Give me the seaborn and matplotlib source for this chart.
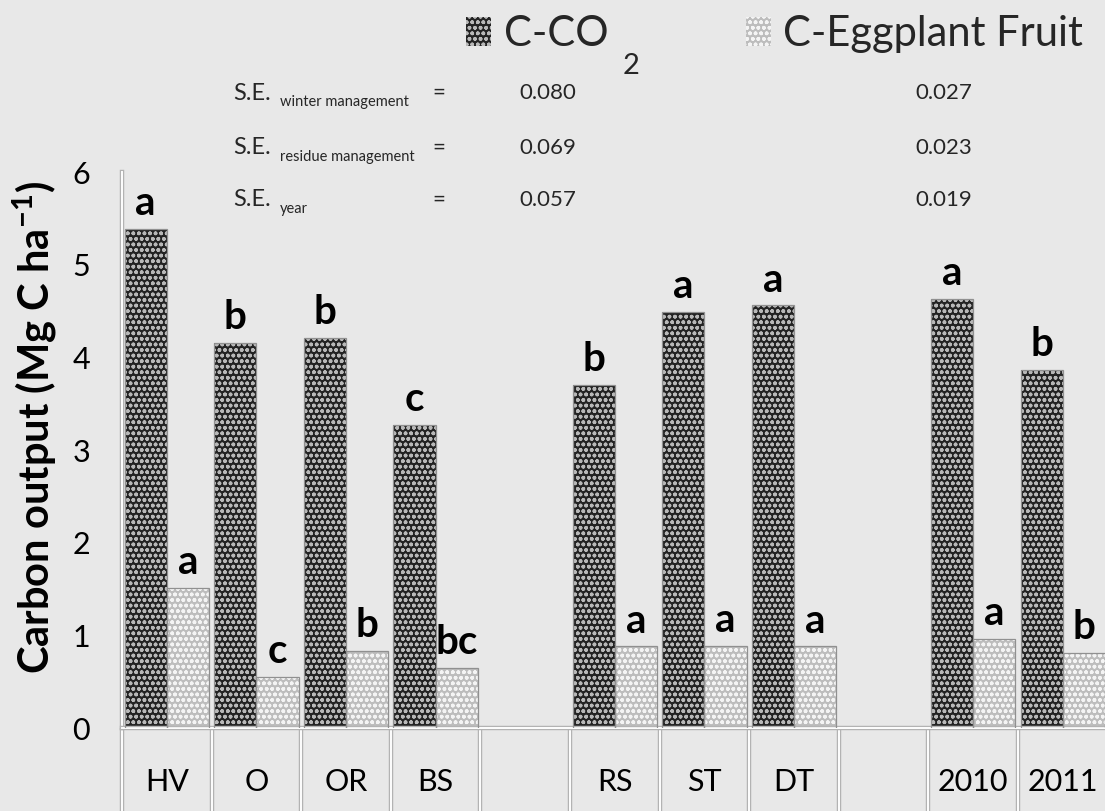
import matplotlib
matplotlib.use("Agg")
import matplotlib.pyplot as plt
import numpy as np
import pandas as pd
import seaborn as sns
from matplotlib.patches import Rectangle
from matplotlib import patheffects as pe
from matplotlib.transforms import blended_transform_factory

# ---- data -------------------------------------------------------------
# category slots along the x axis (blank slots separate the three factor groups)
slots = ["HV", "O", "OR", "BS", " ", "RS", "ST", "DT", "  ", "2010", "2011"]
treatments = ["HV", "O", "OR", "BS", "RS", "ST", "DT", "2010", "2011"]
series = ["C-CO2", "C-Eggplant Fruit"]

co2 = [5.39, 4.16, 4.21, 3.27, 3.70, 4.49, 4.56, 4.63, 3.86]
fruit = [1.51, 0.55, 0.83, 0.65, 0.88, 0.89, 0.88, 0.96, 0.81]

co2_letters = ["a", "b", "b", "c", "b", "a", "a", "a", "b"]
fruit_letters = ["a", "c", "b", "bc", "a", "a", "a", "a", "b"]

se_terms = ["winter management", "residue management", "year"]
se_co2 = ["0.080", "0.069", "0.057"]
se_fruit = ["0.027", "0.023", "0.019"]

# ---- style ------------------------------------------------------------
BG = "#e8e8e8"
DARK = "#232323"
LIGHT = "#bdbdbd"

sns.set_style("white")
plt.rcParams["font.family"] = ["Lato", "DejaVu Sans"]
plt.rcParams["mathtext.fontset"] = "custom"
plt.rcParams["mathtext.rm"] = "Lato"
plt.rcParams["mathtext.bf"] = "Lato:bold"
plt.rcParams["mathtext.it"] = "Lato:italic"
plt.rcParams["hatch.linewidth"] = 1.1

W, H = 1105, 811
fig = plt.figure(figsize=(W / 100, H / 100), dpi=100)
fig.patch.set_facecolor(BG)
ax = fig.add_axes([122 / W, (H - 728) / H, 985.6 / W, 556 / H])
ax.set_facecolor(BG)

df = pd.DataFrame({
    "treatment": treatments * 2,
    "series": [series[0]] * len(treatments) + [series[1]] * len(treatments),
    "carbon": co2 + fruit,
})

sns.barplot(data=df, x="treatment", y="carbon", hue="series",
            order=slots, hue_order=series, palette=[DARK, LIGHT],
            width=0.94, saturation=1, errorbar=None, legend=False, ax=ax)

ax.set_xlim(-0.5, len(slots) - 0.5)
ax.set_ylim(0, 6)

# dotted fill patterns, thin outlines and significance letters
letters = {series[0]: dict(zip(treatments, co2_letters)),
           series[1]: dict(zip(treatments, fruit_letters))}
hatch_cols = ["#b8b8b8", "#f4f4f4"]
for s, cont, hc in zip(series, ax.containers, hatch_cols):
    for bar in cont:
        bar.set_hatch("ooo")
        bar.set_edgecolor(hc)
        bar.set_linewidth(0)
        ax.add_patch(Rectangle((bar.get_x(), bar.get_y()), bar.get_width(),
                               bar.get_height(), fill=False,
                               edgecolor="#909090", linewidth=0.9, zorder=3))
        slot = slots[int(round(bar.get_x() + bar.get_width() / 2))]
        ax.annotate(letters[s][slot], (bar.get_x() + bar.get_width() / 2, bar.get_height()),
                    xytext=(0, 10), textcoords="offset points", ha="center",
                    va="baseline", fontsize=29, fontweight="bold", color="black")

# axes lines: white with grey rim
rim = [pe.Stroke(linewidth=3.2, foreground="#b3b3b3"), pe.Normal()]
for side in ["top", "right"]:
    ax.spines[side].set_visible(False)
for side in ["left", "bottom"]:
    ax.spines[side].set_color("white")
    ax.spines[side].set_linewidth(1.4)
    ax.spines[side].set_path_effects(rim)

ax.set_yticks(range(0, 7))
ax.tick_params(axis="y", length=10, width=1.4, color="white", pad=13,
               labelsize=22, labelcolor="black")
for t in ax.yaxis.get_major_ticks():
    t.tick1line.set_path_effects(rim)

ax.set_xticks(range(len(slots)))
ax.set_xticklabels([s.strip() for s in slots])
ax.tick_params(axis="x", length=0, pad=29, labelsize=22, labelcolor="black")
ax.set_xlabel("")

# category separators below the axis
trans = blended_transform_factory(ax.transData, ax.transAxes)
ax.vlines(np.arange(len(slots) + 1) - 0.5, -0.16, 0, transform=trans,
          colors="white", linewidth=1.4, clip_on=False, path_effects=rim)

ax.set_ylabel(r"Carbon output (Mg C ha$^{\mathbf{-1}}$)", fontsize=30,
              fontweight="bold", color="black")
ax.yaxis.set_label_coords(-0.064, 0.54)

# legend along the top
leg = fig.legend(handles=[ax.containers[0], ax.containers[1]],
                 labels=["C-CO", "C-Eggplant Fruit"], loc="upper left",
                 bbox_to_anchor=(466 / W, 1 - 15 / H), ncol=2, frameon=False,
                 fontsize=30, handlelength=0.6, handleheight=0.7,
                 handletextpad=0.3, columnspacing=3.3, borderpad=0,
                 borderaxespad=0)
fig.canvas.draw()
bb = leg.get_texts()[0].get_window_extent()
fig.text((bb.x1 + 14) / W, (bb.y0 - 26) / H, "2", fontsize=21, va="bottom")

# standard errors block
def ftext(x, y, s, **kw):
    fig.text(x / W, 1 - y / H, s, **kw)

rows_y = [93, 148, 200]
for y, term, a, b in zip(rows_y, se_terms, se_co2, se_fruit):
    ftext(233, y, "S.E.", fontsize=17, va="center")
    ftext(280, y + 9, term, fontsize=10.5, va="center")
    ftext(432, y, "=", fontsize=16, va="center")
    ftext(548, y, a, fontsize=16, va="center", ha="center")
    ftext(944, y, b, fontsize=16, va="center", ha="center")

fig.savefig("out.png", dpi=100, facecolor=BG)
